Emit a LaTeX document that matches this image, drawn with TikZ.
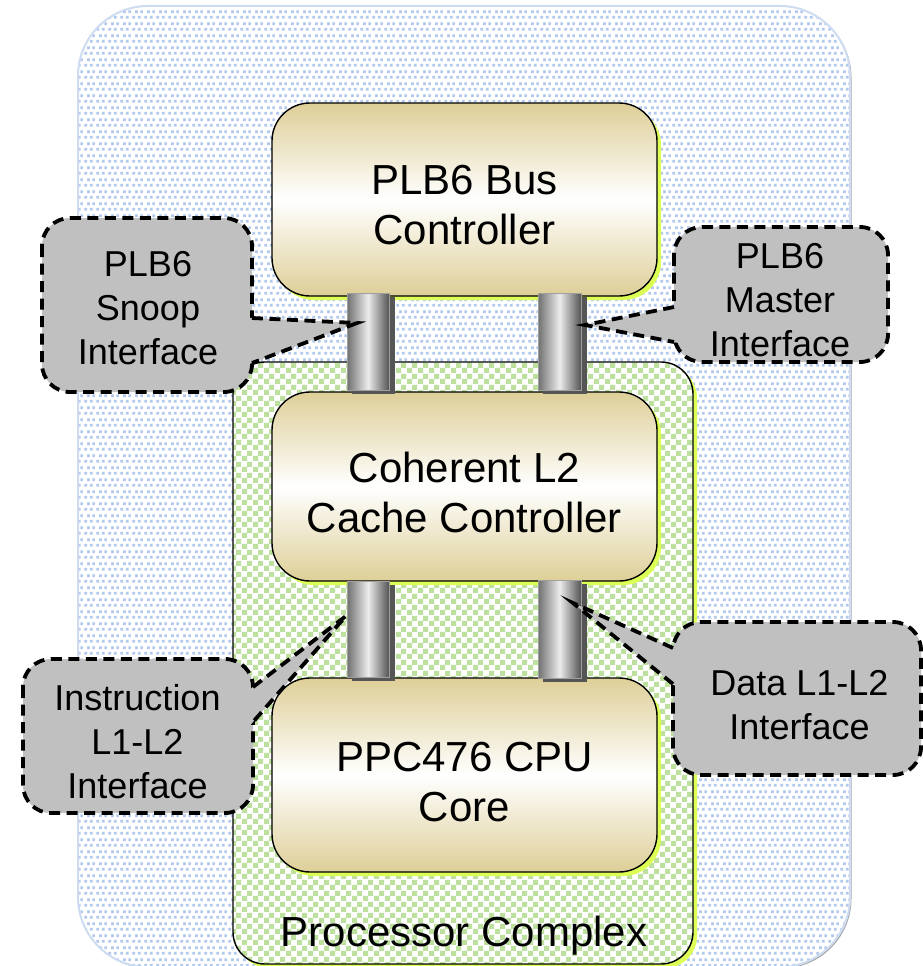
\documentclass[tikz,border=0pt]{standalone}
\usepackage{fontspec}
\setmainfont{Liberation Sans}
\usetikzlibrary{patterns.meta}
\definecolor{dotblue}{RGB}{178,200,236}
\definecolor{outerline}{RGB}{206,220,242}
\definecolor{checkgreen}{RGB}{190,224,158}
\definecolor{glow}{RGB}{221,255,85}
\definecolor{tan}{RGB}{222,207,152}
\definecolor{callgrey}{RGB}{192,192,192}
\definecolor{pipedark}{RGB}{112,112,112}
\definecolor{pipelight}{RGB}{236,236,236}
\definecolor{pipeshade}{RGB}{85,85,85}

\tikzdeclarepattern{
  name=bluedots,
  type=uncolored,
  bottom left={(0pt,0pt)},
  top right={(12pt,12pt)},
  tile size={(12pt,12pt)},
  code={
    \fill (0.3pt,0.3pt) rectangle (3.3pt,3.3pt);
    \fill (6.3pt,0.3pt) rectangle (9.3pt,3.3pt);
    \fill (3.3pt,6.3pt) rectangle (6.3pt,9.3pt);
    \fill (9.0pt,6.3pt) rectangle (11.9pt,9.3pt);
  }
}
\tikzdeclarepattern{
  name=checker,
  type=uncolored,
  bottom left={(0pt,0pt)},
  top right={(11pt,11pt)},
  tile size={(11pt,11pt)},
  code={
    \fill (0pt,0pt) rectangle (5.5pt,5.5pt);
    \fill (5.5pt,5.5pt) rectangle (11pt,11pt);
  }
}

\begin{document}
\begin{tikzpicture}[x=1pt,y=-1pt,
  mainbox/.style={draw=black, line width=1.4pt, rounded corners=38pt,
    top color=tan, bottom color=tan, middle color=white},
  glowbox/.style={fill=glow, rounded corners=38pt},
  pipebody/.style={left color=pipedark, right color=pipedark!75!black,
    middle color=pipelight, draw=gray!75, line width=0.6pt},
  pipeback/.style={fill=pipeshade},
  callbox/.style={fill=callgrey, draw=black, line width=3.8pt,
    dash pattern=on 11pt off 6.5pt, rounded corners=28pt},
  calledge/.style={draw=black, line width=3.8pt, dash pattern=on 11pt off 6.5pt},
  maintext/.style={font=\fontsize{42}{50}\selectfont, align=center, inner sep=0pt},
  calltext/.style={font=\fontsize{36}{44}\selectfont, align=center, inner sep=0pt},
]
\useasboundingbox (0,0) rectangle (922,966);

% outer region
\fill[gray!70, rounded corners=70pt] (79.5,7.5) rectangle (851.5,968.5);
\fill[white, rounded corners=70pt] (78,6) rectangle (850,967);
\fill[pattern=bluedots, pattern color=dotblue, rounded corners=70pt] (78,6) rectangle (850,967);
\draw[outerline, line width=2pt, rounded corners=70pt] (78,6) rectangle (850,967);

% processor complex
\fill[glow, rounded corners=32pt] (237,366) rectangle (697,968);
\fill[white, rounded corners=32pt] (233,362) rectangle (693,964);
\fill[pattern=checker, pattern color=checkgreen, rounded corners=32pt] (233,362) rectangle (693,964);
\draw[black, line width=1.4pt, rounded corners=32pt] (233,362) rectangle (693,964);

% main boxes
\fill[glowbox] (276,107) rectangle (661,300);
\shadedraw[mainbox] (272,103) rectangle (657,296);
\fill[glowbox] (276,396) rectangle (661,585);
\shadedraw[mainbox] (272,392) rectangle (657,581);
\fill[glowbox] (276,682) rectangle (661,876);
\shadedraw[mainbox] (272,678) rectangle (657,872);

\node[maintext] (plb) at (464.5,205) {PLB6 Bus\\Controller};
\node[maintext] (l2) at (464.5,492.5) {Coherent L2\\Cache Controller};
\node[maintext] (cpu) at (464.5,782) {PPC476 CPU\\Core};
\node[maintext] (pc) at (464,935.5) {Processor Complex};

% pipes
\fill[pipeback] (352,297) rectangle (395,394);
\shadedraw[pipebody] (347,293) rectangle (389,390);
\fill[pipeback] (543,297) rectangle (587,394);
\shadedraw[pipebody] (538,293) rectangle (581,390);
\fill[pipeback] (352,585) rectangle (395,681);
\shadedraw[pipebody] (347,581) rectangle (389,677);
\fill[pipeback] (543,584) rectangle (587,682);
\shadedraw[pipebody] (538,580) rectangle (581,678);

% callout: snoop
\filldraw[callbox] (42,218) rectangle (252,392);
\fill[callgrey] (357,323) -- (246,317.7) -- (246,365.3) -- cycle;
\draw[calledge] (252,318) -- (357,323) -- (252,363);
\node[calltext] (snoop) at (148,308.5) {PLB6\\Snoop\\Interface};

% callout: master
\filldraw[callbox] (674,227) rectangle (888,362);
\fill[callgrey] (585,325) -- (680,306) -- (680,343.2) -- cycle;
\draw[calledge] (674,307) -- (585,325) -- (674,342);
\node[calltext] (master) at (780,300) {PLB6\\Master\\Interface};

% callout: instruction
\filldraw[callbox] (23,659) rectangle (253,813);
\fill[callgrey] (346,616) -- (247,691.6) -- (247,728.8) -- cycle;
\draw[calledge] (253,687) -- (346,616) -- (253,722);
\node[calltext] (instr) at (137.5,742) {Instruction\\L1-L2\\Interface};

% callout: data
\filldraw[callbox] (673,622) rectangle (921,775);
\fill[callgrey] (573,603) -- (679,650.7) -- (679,688.9) -- cycle;
\draw[calledge] (673,648) -- (573,603) -- (673,684);
\node[calltext] (data) at (799.5,705) {Data L1-L2\\Interface};
\end{tikzpicture}
\end{document}
